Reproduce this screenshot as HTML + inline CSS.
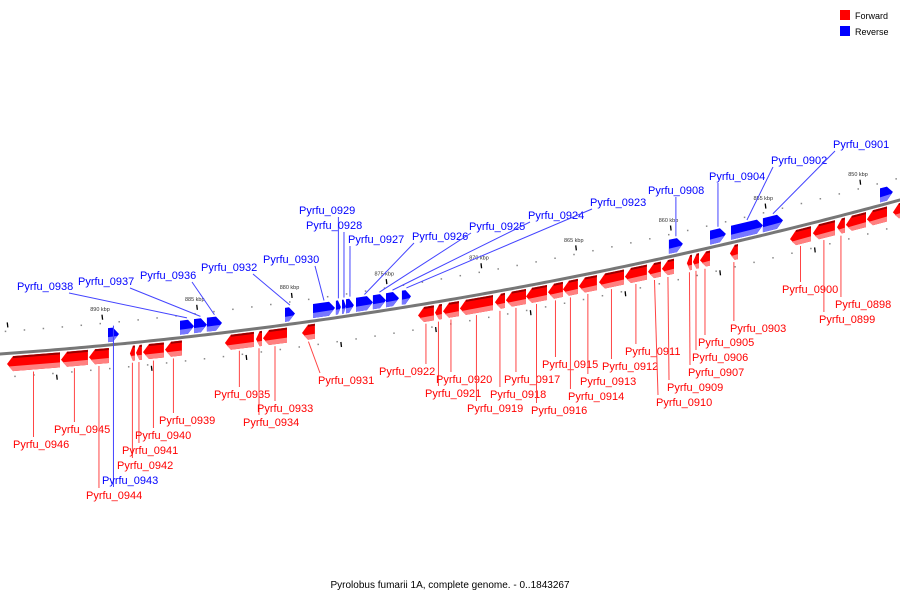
<!DOCTYPE html>
<html><head><meta charset="utf-8">
<style>
html,body{margin:0;padding:0;background:#fff;}
svg{display:block;font-family:"Liberation Sans",sans-serif;}
</style></head>
<body>
<svg id="chart" width="900" height="600" viewBox="0 0 900 600" xmlns="http://www.w3.org/2000/svg">
  <g id="ticks"></g>
  <path id="backbone" fill="none" stroke="#777" stroke-width="3"></path>
  <g id="genes"></g>
  <g id="labels"></g>
  <g>
    <rect x="840" y="10" width="10" height="10" fill="#f00"/>
    <text x="855" y="19" font-size="9" fill="#000">Forward</text>
    <rect x="840" y="26" width="10" height="10" fill="#00f"/>
    <text x="855" y="35" font-size="9" fill="#000">Reverse</text>
  </g>
  <text x="450" y="588" font-size="10" text-anchor="middle" fill="#000">Pyrolobus fumarii 1A, complete genome. - 0..1843267</text>
</svg>
<script>
// gene data (coordinates in kbp; hi = left end, lo = right end)
const geneNames = ["Pyrfu_0946","Pyrfu_0945","Pyrfu_0944","Pyrfu_0943","Pyrfu_0942","Pyrfu_0941","Pyrfu_0940","Pyrfu_0939","Pyrfu_0938","Pyrfu_0937","Pyrfu_0936","Pyrfu_0935","Pyrfu_0934","Pyrfu_0933","Pyrfu_0932","Pyrfu_0931","Pyrfu_0930","Pyrfu_0929","Pyrfu_0928","Pyrfu_0927","Pyrfu_0926","Pyrfu_0925","Pyrfu_0924","Pyrfu_0923","Pyrfu_0922","Pyrfu_0921","Pyrfu_0920","Pyrfu_0919","Pyrfu_0918","Pyrfu_0917","Pyrfu_0916","Pyrfu_0915","Pyrfu_0914","Pyrfu_0913","Pyrfu_0912","Pyrfu_0911","Pyrfu_0910","Pyrfu_0909","Pyrfu_0908","Pyrfu_0907","Pyrfu_0906","Pyrfu_0905","Pyrfu_0904","Pyrfu_0903","Pyrfu_0902","Pyrfu_0901","Pyrfu_0900","Pyrfu_0899","Pyrfu_0898","","","",""];
const geneHi = [894.91,892.06,890.58,889.58,888.42,888.10,887.73,886.57,885.78,885.04,884.36,883.41,881.77,881.40,880.24,879.34,878.76,877.55,877.23,877.02,876.49,875.60,874.91,874.07,873.22,872.32,871.90,871.01,869.16,868.58,867.52,866.36,865.57,864.73,863.67,862.30,861.08,860.35,859.98,859.03,858.71,858.34,857.81,856.76,856.70,855.02,853.59,852.38,851.11,850.64,849.53,848.84,848.16];
const geneLo = [892.11,890.64,889.53,889.00,888.16,887.79,886.63,885.68,885.04,884.36,883.56,881.88,881.45,880.13,879.71,878.66,877.60,877.29,877.02,876.60,875.60,874.91,874.22,873.59,872.38,871.96,871.06,869.26,868.63,867.52,866.41,865.57,864.78,863.78,862.35,861.14,860.40,859.71,859.24,858.76,858.39,857.81,856.97,856.34,855.02,853.96,852.48,851.22,850.69,849.58,848.47,848.16,847.50];
const geneStrand = ["F","F","F","R","F","F","F","F","R","R","R","F","F","F","R","F","R","R","R","R","R","R","R","R","F","F","F","F","F","F","F","F","F","F","F","F","F","F","R","F","F","F","R","F","R","R","F","F","F","F","F","R","F"];
// label text positions (left x, baseline y) per gene
const labelX = [13,54,86,102,117,122,135,159,17,78,140,214,243,257,201,318,263,299,306,348,412,469,528,590,379,425,436,467,490,504,531,542,568,580,602,625,656,667,648,688,692,698,709,730,771,833,782,819,835,null,null,null,null];
const labelY = [448,433,499,484,469,454,439,424,290,285,279,398,426,412,271,384,263,214,229,243,240,230,219,206,375,397,383,412,398,383,414,368,400,385,370,355,406,391,194,376,361,346,180,332,164,148,293,323,308,null,null,null,null];
const scaleTicks = [890,885,880,875,870,865,860,855,850];

const NS="http://www.w3.org/2000/svg";
function kx(k){ return 100 + (890 - k) * 18.95; }
function cy(x){ return 354 - 0.0704*x - 0.0001119*x*x; }
function mk(tag, attrs, parent){
  const e=document.createElementNS(NS,tag);
  for(const a in attrs) e.setAttribute(a, attrs[a]);
  parent.appendChild(e); return e;
}
// backbone
let d="";
for(let x=-5;x<=905;x+=5){ d += (x===-5?"M":"L")+x+","+cy(x).toFixed(2)+" "; }
const bb=document.getElementById("backbone");
bb.setAttribute("d", d);
// ticks
const tg=document.getElementById("ticks");
for(let k=898;k>=845;k-=1){
  const x=kx(k); if(x<0||x>900) continue;
  const y=cy(x);
  const a=mk("rect",{x:x-0.5,y:y-23,width:1.5,height:1.5,fill:"#888"},tg);
  
  
  const b=mk("rect",{x:x+9,y:y+22,width:1.5,height:1.5,fill:"#888"},tg);
  
  
}
for(let k=900;k>=845;k-=5){
  const x=kx(k)+2; if(x<0||x>900) continue;
  const y=cy(x);
  const t=mk("line",{x1:x,y1:y-31,x2:x+0.6,y2:y-26,stroke:"#000","stroke-width":1.3},tg);
  
  
  const x2=kx(k-2.5)+4, y2=cy(x2);
  const t2=mk("line",{x1:x2,y1:y2+25,x2:x2+0.6,y2:y2+30,stroke:"#000","stroke-width":1.3},tg);
  
  
}
scaleTicks.forEach(k=>{
  const x=kx(k), y=cy(x);
  const t=mk("text",{x:x,y:y-35,"font-size":"5.5","text-anchor":"middle",fill:"#333"},tg);
  t.textContent=k+" kbp";
  
  
});
// genes
const gg=document.getElementById("genes");
const lg=document.getElementById("labels");
function poly(pts){ return pts.map(p=>p[0].toFixed(1)+","+p[1].toFixed(1)).join(" "); }
geneNames.forEach((name,i)=>{
  const x1=kx(geneHi[i]), x2=kx(geneLo[i]);
  const fwd = geneStrand[i]==="F";
  const t = fwd ? 3 : -17, b = fwd ? 18 : -3;
  const h = Math.min(6, (x2-x1)*0.6);
  const g=mk("g",{},gg);
  
  
  let pts, low;
  const m=(t+b)/2;
  if(fwd){
    pts=[[x1,cy(x1)+m],[x1+h,cy(x1+h)+t],[x2,cy(x2)+t],[x2,cy(x2)+b],[x1+h,cy(x1+h)+b]];
    low=[[x1+h*0.3,cy(x1)+b-5],[x2,cy(x2)+b-5],[x2,cy(x2)+b],[x1+h,cy(x1+h)+b]];
  } else {
    pts=[[x1,cy(x1)+t],[x2-h,cy(x2-h)+t],[x2,cy(x2)+m],[x2-h,cy(x2-h)+b],[x1,cy(x1)+b]];
    low=[[x1,cy(x1)+b-5],[x2-h*0.3,cy(x2)+b-5],[x2-h,cy(x2-h)+b],[x1,cy(x1)+b]];
  }
  mk("polygon",{points:poly(pts),fill:fwd?"#f00":"#00f"},g);
  mk("polygon",{points:poly(low),fill:fwd?"#ff8080":"#7777ff"},g);
  if(fwd){
    mk("polygon",{points:poly([[x1+h,cy(x1+h)+t],[x2,cy(x2)+t],[x2,cy(x2)+t+2],[x1+h,cy(x1+h)+t+2]]),fill:"#900"},g);
  }
  if(!name || labelX[i]===null) return;
  const gx=(x1+x2)/2, gy=cy(gx)+(fwd?20:-19);
  const lx=labelX[i], ly=labelY[i];
  const ax=Math.max(lx+2, Math.min(lx+52, gx));
  const ay= fwd ? ly-11 : ly+3;
  const ln=mk("line",{x1:gx,y1:gy,x2:ax,y2:ay,stroke:fwd?"#f44":"#44f","stroke-width":1},lg);
  
  
  const tx=mk("text",{x:lx,y:ly,"font-size":"11",fill:fwd?"#f00":"#00f"},lg);
  tx.textContent=name;
  
  
});
</script>
</body></html>
